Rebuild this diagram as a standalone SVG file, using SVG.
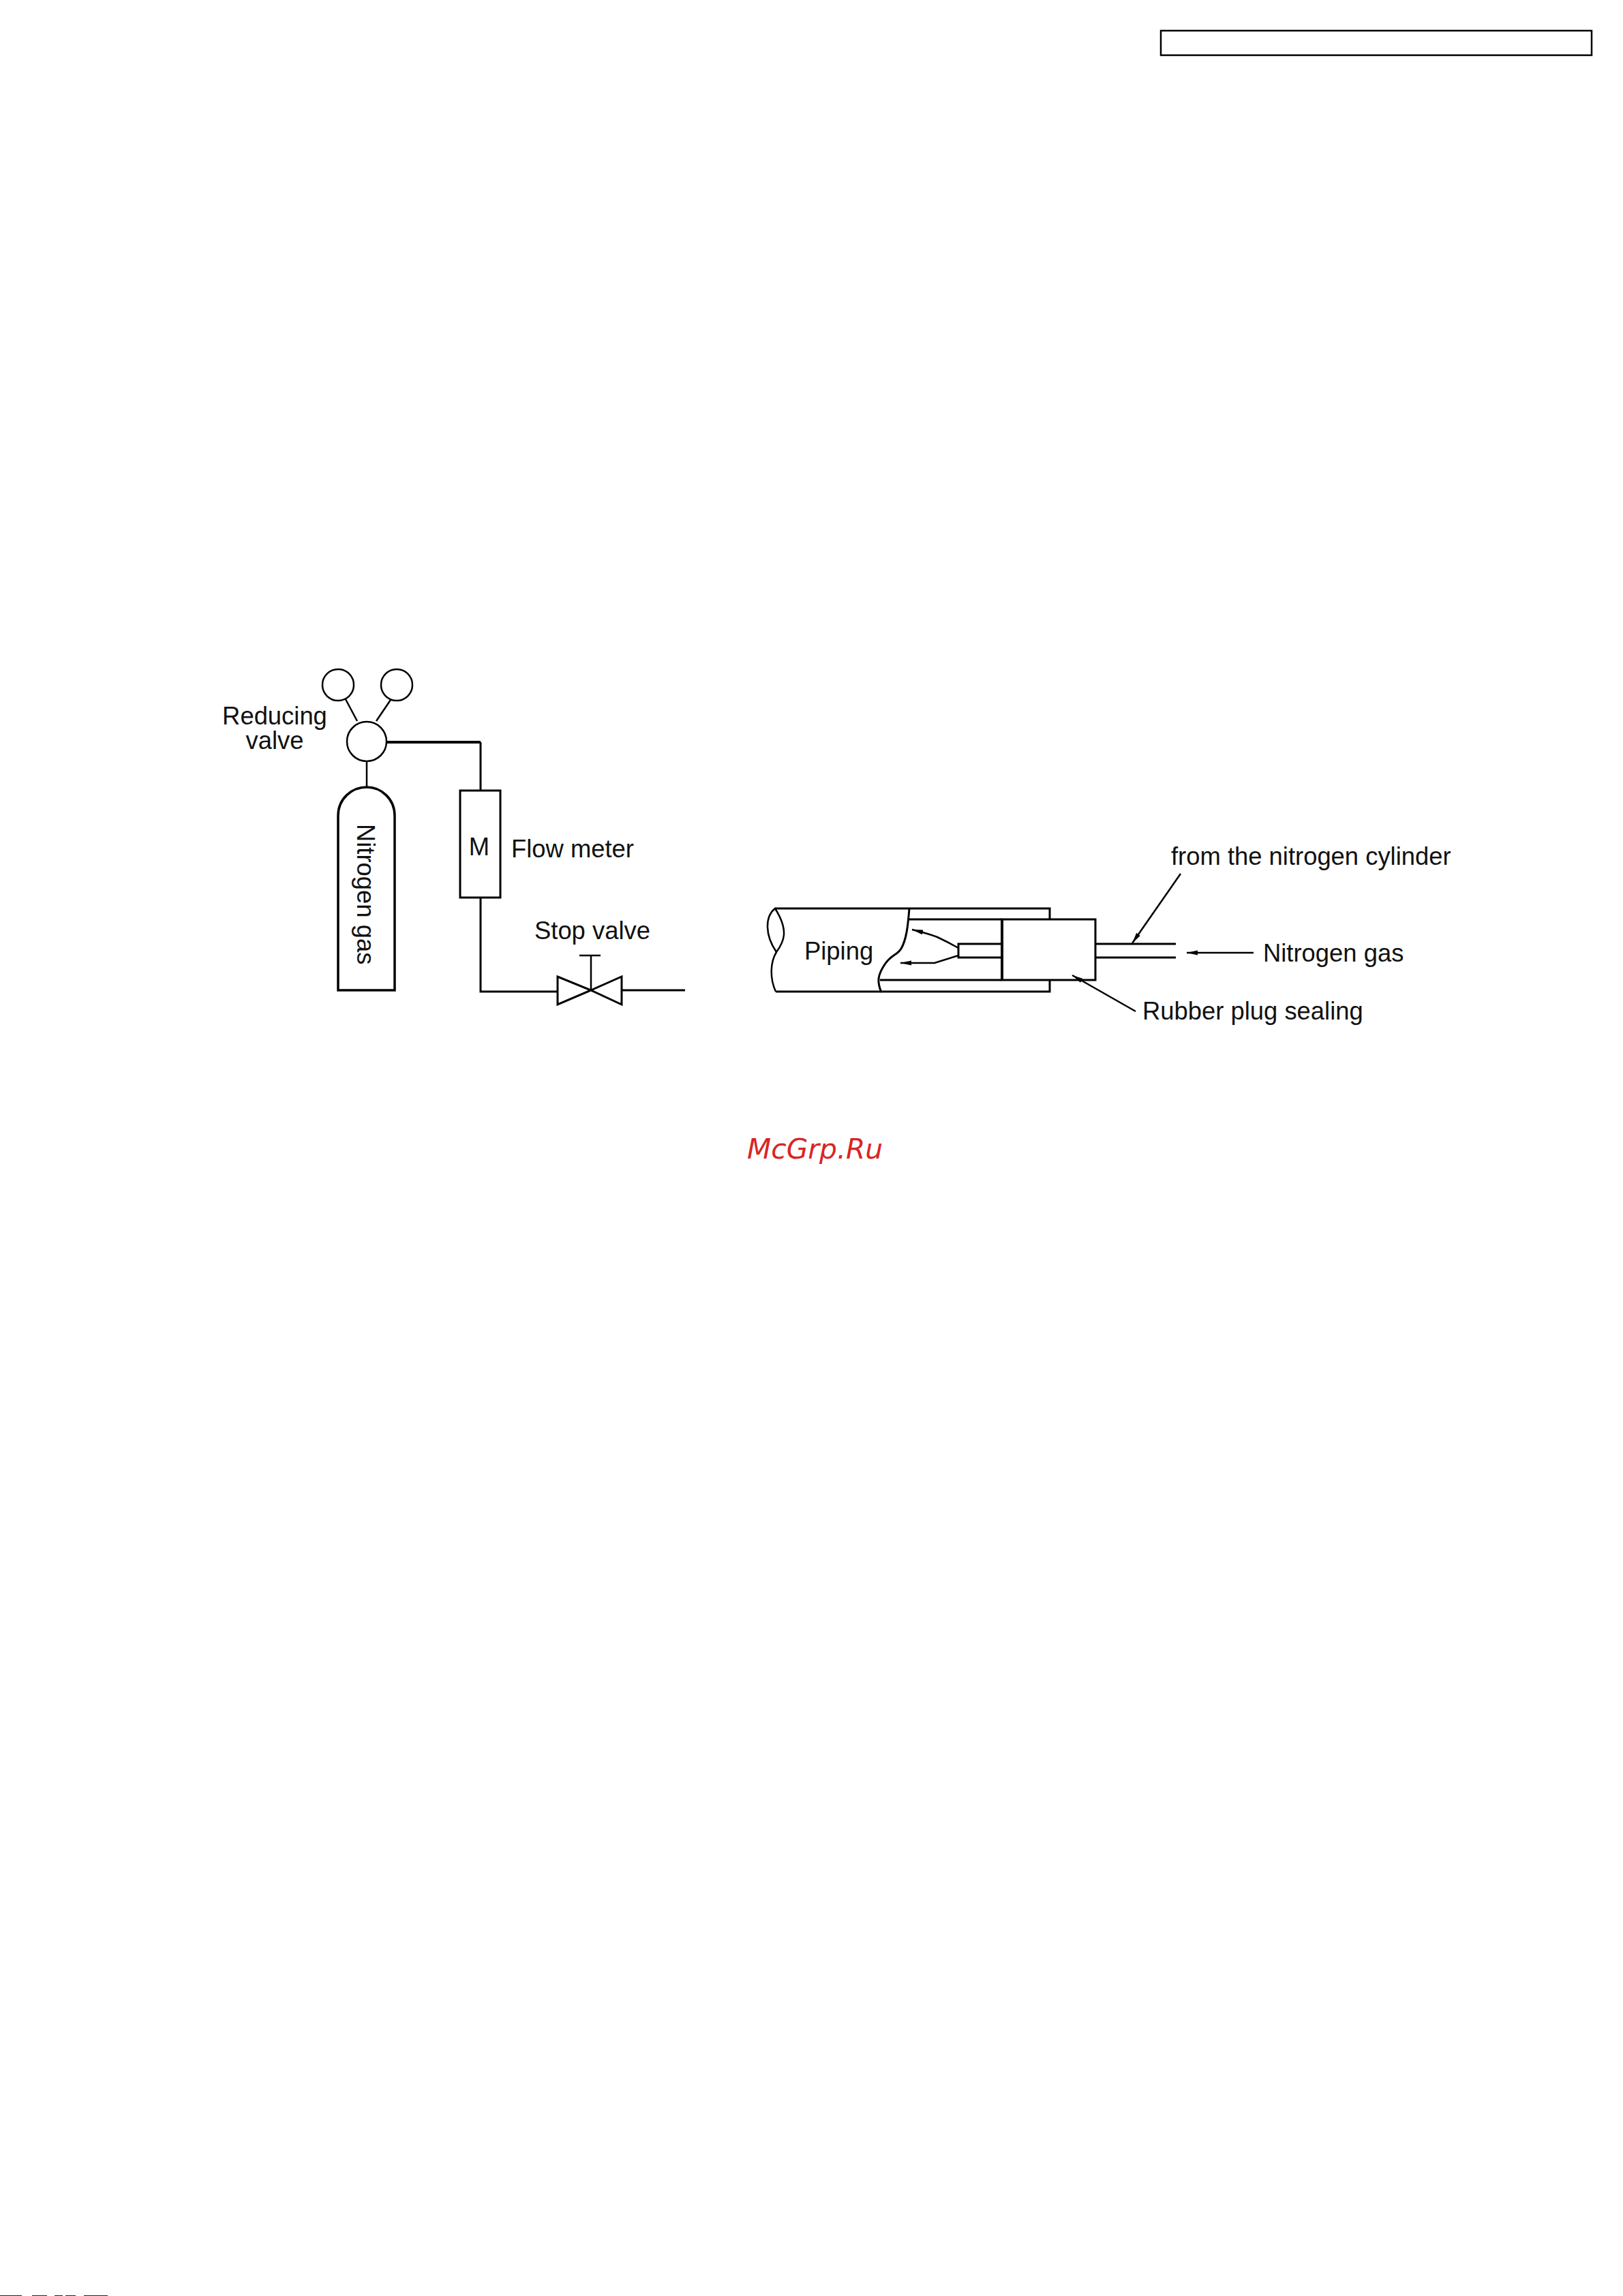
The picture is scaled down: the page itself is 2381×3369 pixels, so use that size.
<svg xmlns="http://www.w3.org/2000/svg" width="2381" height="3369" viewBox="0 0 2381 3369">
<style>
text{font-family:"Liberation Sans",Arial,sans-serif;font-size:36.4px;fill:#111}
.s{fill:none;stroke:#000;stroke-width:2.5}
.m{fill:none;stroke:#000;stroke-width:3}
.t{fill:none;stroke:#000;stroke-width:4}
.w{fill:#fff;stroke:#000;stroke-width:2.5}
text.wm{font-family:"DejaVu Sans",sans-serif;font-style:italic;font-size:40.8px;fill:#d92525}
</style>
<defs>
<marker id="a" markerUnits="userSpaceOnUse" markerWidth="18" markerHeight="12" refX="16" refY="5" orient="auto"><path d="M0 1.5L16 5L0 8.5z" fill="#000"/></marker>
</defs>
<rect width="2381" height="3369" fill="#fff"/>
<rect id="header-box" x="1703" y="45" width="632" height="36" fill="none" stroke="#000" stroke-width="2.5"/>
<g id="gauge-left"><circle class="w" cx="496" cy="1005" r="23"/></g>
<g id="gauge-right"><circle class="w" cx="582" cy="1005" r="23"/></g>
<g id="reducing-valve"><circle class="w" cx="538" cy="1088" r="29"/>
<text x="403" y="1063" text-anchor="middle">Reducing</text><text x="403" y="1099" text-anchor="middle">valve</text></g>
<g id="nitrogen-cylinder"><path class="t" d="M496 1453V1197C496 1172 516 1155 538 1155C559 1155 579 1172 579 1197V1453Z" fill="#fff" style="stroke-width:3.5"/>
<text transform="translate(524 1209) rotate(90)">Nitrogen gas</text></g>
<g id="flow-meter"><rect class="m" x="675" y="1160" width="59" height="157"/>
<text x="703" y="1255" text-anchor="middle">M</text><text x="750" y="1258">Flow meter</text></g>
<g id="stop-valve"><path class="m" d="M818 1433V1474L867 1453ZM912 1433V1474L867 1453Z"/>
<text x="784" y="1378">Stop valve</text></g>
<g id="piping">
<path class="s" d="M1137 1333H1540V1348M1138 1455H1540V1438" style="stroke-width:3"/>
<path class="s" d="M1137 1333C1122 1345 1122 1372 1139 1397C1150 1382 1158 1366 1137 1333Z"/>
<path class="s" d="M1139 1397C1130 1412 1129 1435 1138 1455"/>
<path class="m" d="M1334 1333C1332 1358 1330 1378 1322 1392C1316 1402 1308 1400 1298 1415C1288 1430 1286 1440 1293 1456"/>
<text x="1180" y="1408">Piping</text>
</g>
<g id="rubber-plug">
<rect x="1470" y="1349" width="137" height="89" fill="#fff" stroke="#000" stroke-width="3"/>
<path class="t" d="M1470 1349V1438"/>
<path class="m" d="M1334 1349H1470M1291 1438H1470"/>
<path class="s" d="M1470 1385H1406V1405H1470" style="stroke-width:3"/>
</g>
<g id="supply-tube"><path class="s" d="M1608 1385H1725M1608 1405H1725" style="stroke-width:3"/></g>
<g id="connectors">
<path class="s" d="M507 1026L524 1058"/>
<path class="s" d="M573 1027L552 1058"/>
<path class="s" d="M538 1118V1155"/>
<path class="t" d="M567 1089H705"/>
<path class="m" d="M705 1089V1160"/>
<path class="m" d="M705 1317V1455H818"/>
<path class="m" d="M912 1453H1005"/>
<path class="s" d="M867 1453V1402M850 1402H881"/>
<path class="s" d="M1666 1484L1573 1431" marker-end="url(#a)"/>
<path class="s" d="M1732 1282L1661 1384" marker-end="url(#a)"/>
<path class="s" d="M1839 1398H1741" marker-end="url(#a)"/>
<path class="s" d="M1406 1391Q1390 1382 1375 1375Q1362 1370 1338 1364" marker-end="url(#a)"/>
<path class="s" d="M1406 1402L1371 1413Q1350 1413 1321 1413" marker-end="url(#a)"/>
</g>
<g id="labels">
<text x="1718" y="1269">from the nitrogen cylinder</text>
<text x="1853" y="1411">Nitrogen gas</text>
<text x="1676" y="1496">Rubber plug sealing</text>
</g>
<text class="wm" x="1096" y="1700">McGrp.Ru</text>
<g id="page-edge" fill="#222"><rect x="0" y="3368" width="32" height="1"/><rect x="47" y="3368" width="22" height="1"/><rect x="80" y="3368" width="12" height="1"/><rect x="96" y="3368" width="15" height="1"/><rect x="123" y="3368" width="35" height="1"/></g>
</svg>
